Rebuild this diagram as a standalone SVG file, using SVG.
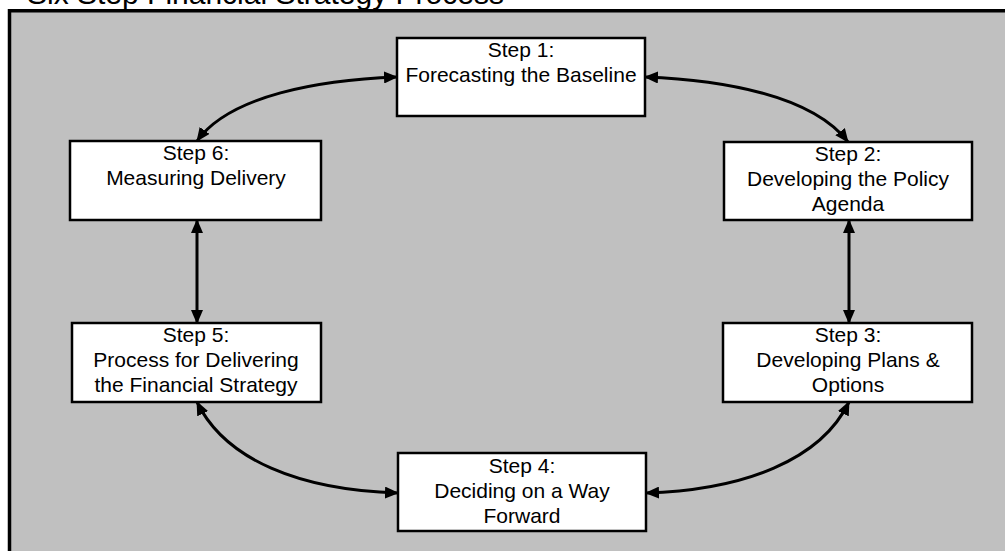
<svg xmlns="http://www.w3.org/2000/svg" width="1005" height="551" viewBox="0 0 1005 551">
  <defs>
    <marker id="ah" viewBox="0 0 14 12" refX="13" refY="6" markerWidth="14" markerHeight="12" markerUnits="userSpaceOnUse" orient="auto-start-reverse">
      <path d="M0,0 L14,6 L0,12 z" fill="#000"/>
    </marker>
  </defs>
  <style>
    .box { fill: #fff; stroke: #000; stroke-width: 2.5; }
    .lbl { font-family: "Liberation Sans", Arial, sans-serif; font-size: 21px; fill: #000; text-anchor: middle; }
    .conn { fill: none; stroke: #000; stroke-width: 3; marker-start: url(#ah); marker-end: url(#ah); }
  </style>
  <rect x="0" y="0" width="1005" height="551" fill="#fff"/>
  <text x="27" y="3.5" font-family="Liberation Sans, Arial, sans-serif" font-size="30" fill="#000">Six Step Financial Strategy Process</text>
  <rect x="9.5" y="10.75" width="1100" height="600" fill="#C0C0C0" stroke="#000" stroke-width="3.5"/>

  <g id="connectors">
    <path class="conn" d="M 197 141 C 230 95, 320 80, 397 77"/>
    <path class="conn" d="M 645 77 C 722 80, 812 95, 848 142"/>
    <path class="conn" d="M 849 220 L 849 323"/>
    <path class="conn" d="M 849 402 C 821 460, 744 490, 646 493"/>
    <path class="conn" d="M 398 493 C 300 490, 225 460, 197 402"/>
    <path class="conn" d="M 197 323 L 197 220"/>
  </g>

  <g id="step1">
    <rect class="box" x="397" y="38" width="248" height="78"/>
    <text class="lbl" x="521" y="57">Step 1:</text>
    <text class="lbl" x="521" y="82">Forecasting the Baseline</text>
  </g>
  <g id="step2">
    <rect class="box" x="724" y="142" width="248" height="78"/>
    <text class="lbl" x="848" y="161">Step 2:</text>
    <text class="lbl" x="848" y="186">Developing the Policy</text>
    <text class="lbl" x="848" y="211">Agenda</text>
  </g>
  <g id="step3">
    <rect class="box" x="723" y="323" width="249" height="79"/>
    <text class="lbl" x="848" y="342">Step 3:</text>
    <text class="lbl" x="848" y="367">Developing Plans &amp;</text>
    <text class="lbl" x="848" y="392">Options</text>
  </g>
  <g id="step4">
    <rect class="box" x="398" y="453" width="248" height="78"/>
    <text class="lbl" x="522" y="473">Step 4:</text>
    <text class="lbl" x="522" y="498">Deciding on a Way</text>
    <text class="lbl" x="522" y="523">Forward</text>
  </g>
  <g id="step5">
    <rect class="box" x="72" y="323" width="249" height="79"/>
    <text class="lbl" x="196" y="342">Step 5:</text>
    <text class="lbl" x="196" y="367">Process for Delivering</text>
    <text class="lbl" x="196" y="392">the Financial Strategy</text>
  </g>
  <g id="step6">
    <rect class="box" x="70" y="141" width="251" height="79"/>
    <text class="lbl" x="196" y="160">Step 6:</text>
    <text class="lbl" x="196" y="185">Measuring Delivery</text>
  </g>
</svg>
